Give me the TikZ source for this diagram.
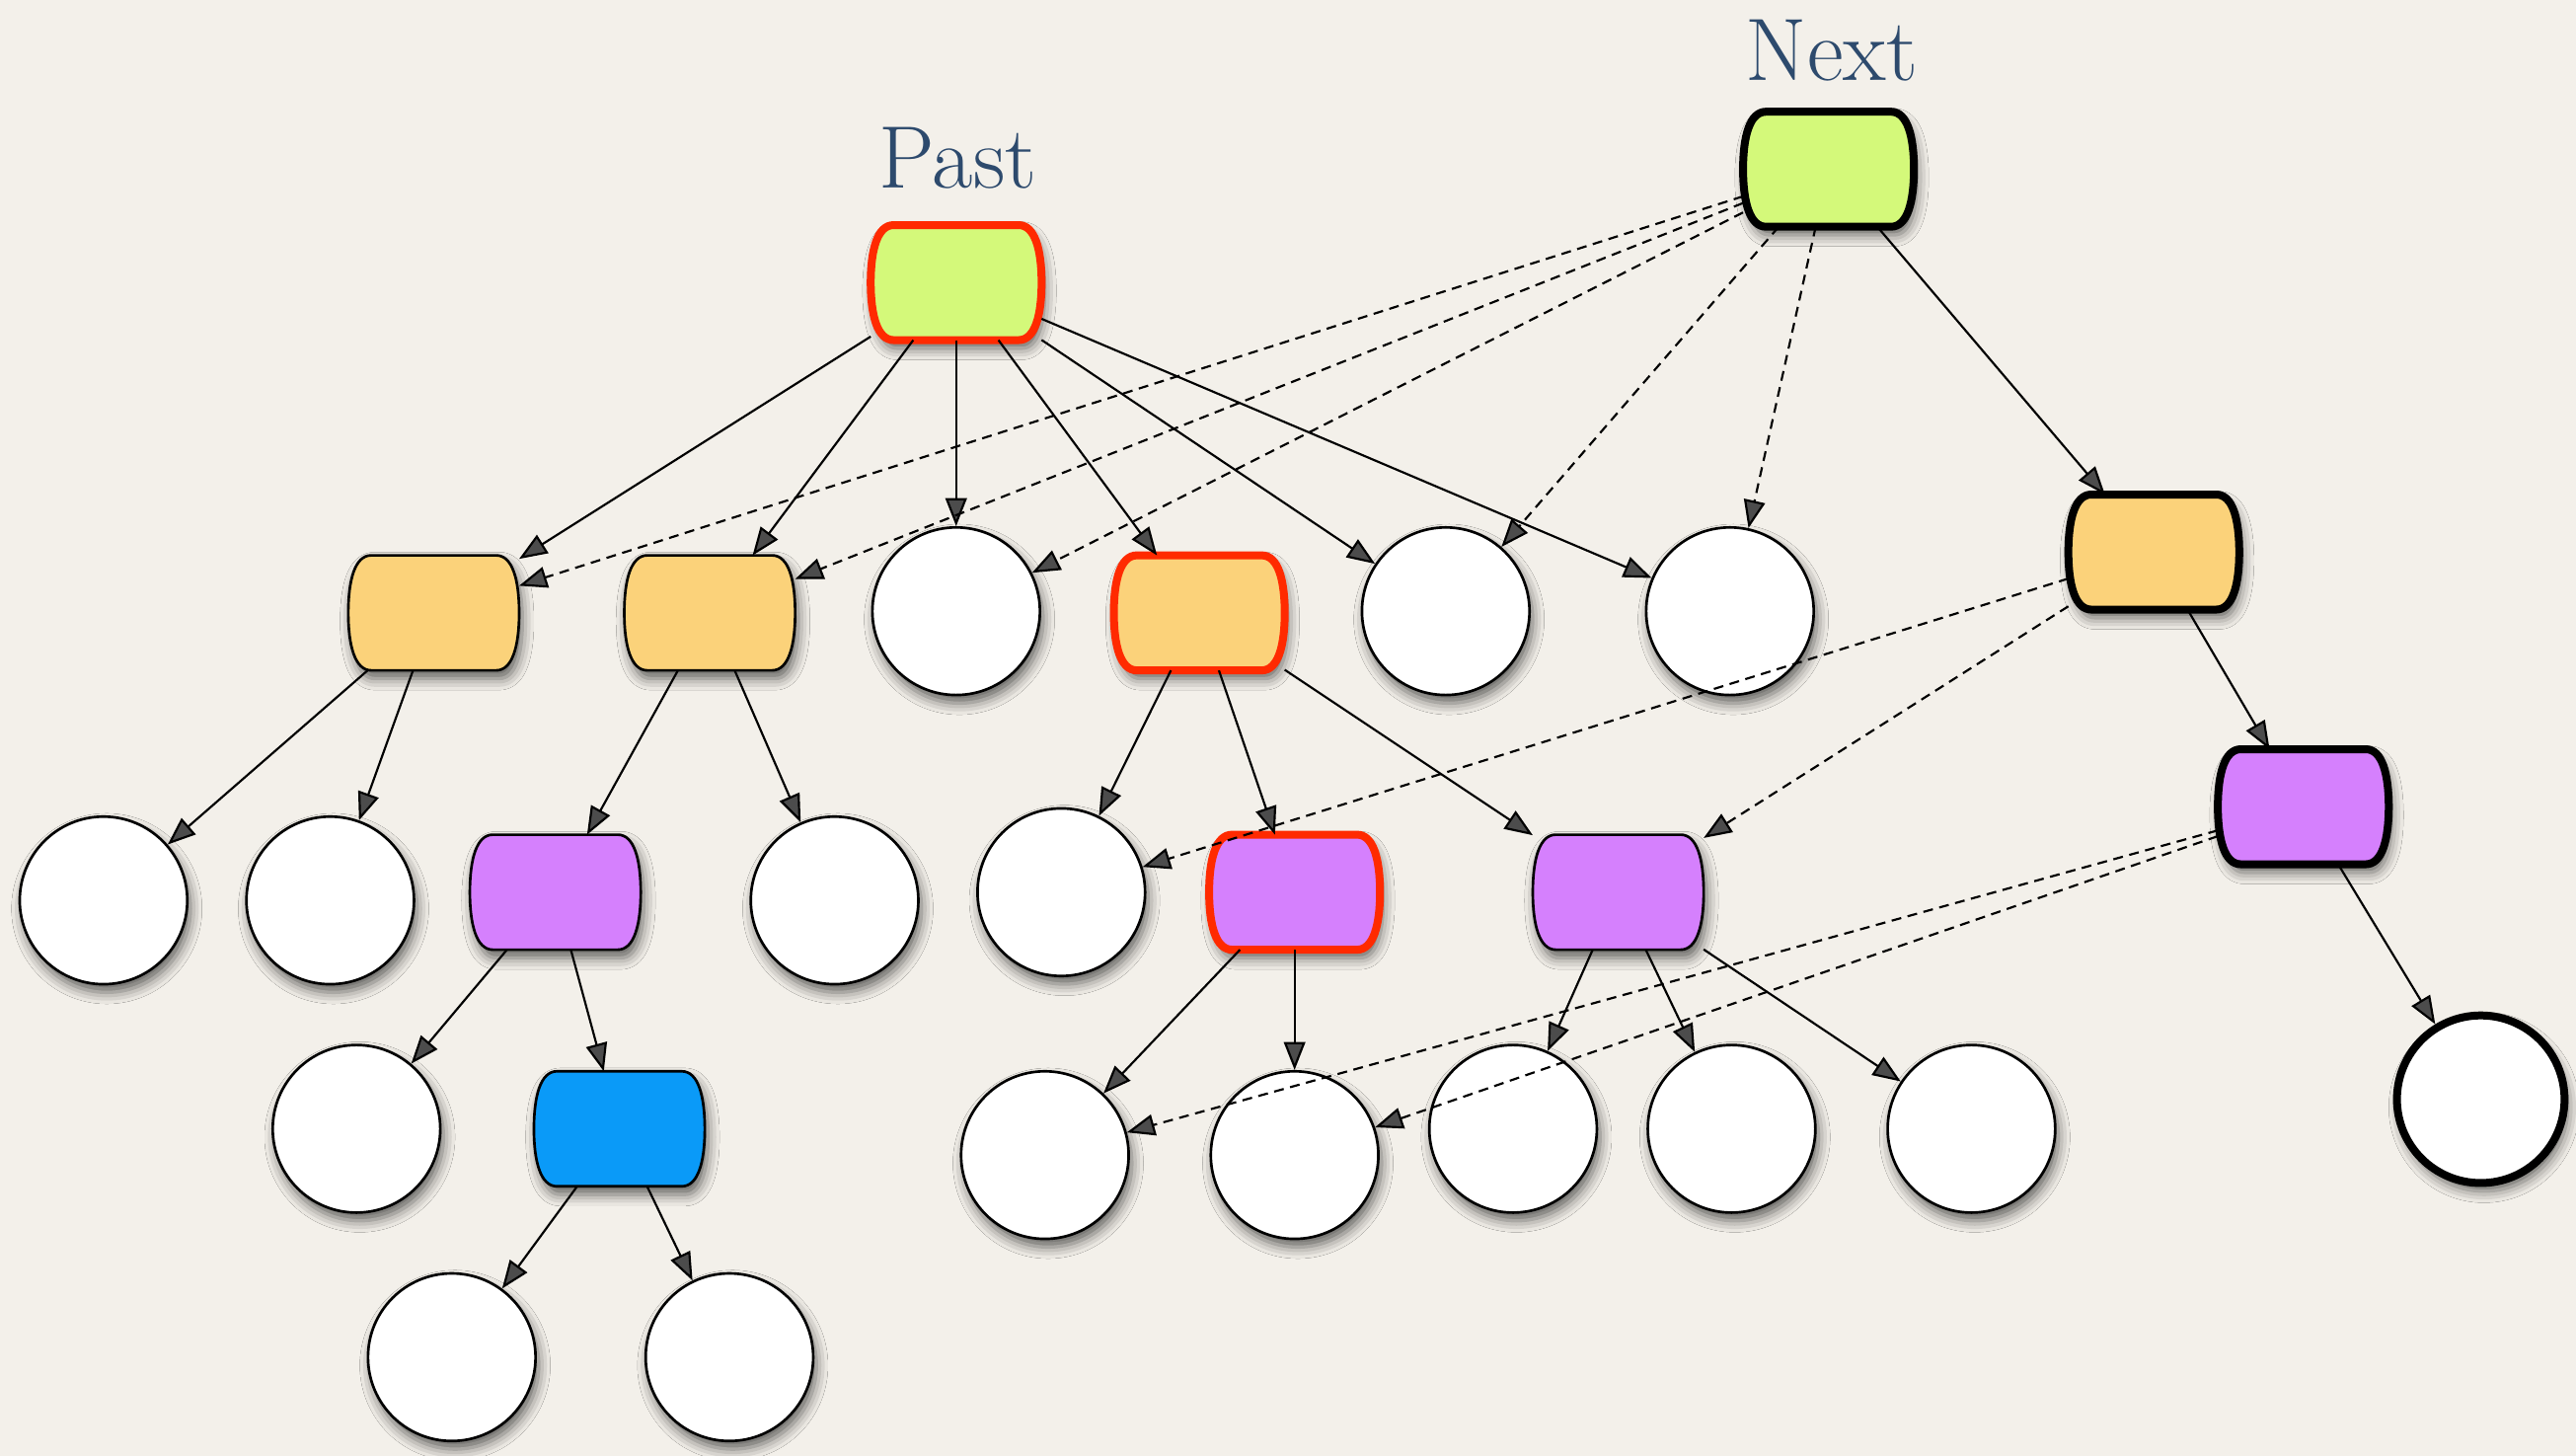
\documentclass[tikz,border=0pt]{standalone}
\usetikzlibrary{arrows.meta,shadows.blur}
\definecolor{bg}{HTML}{F3F0EA}
\definecolor{greenc}{HTML}{D4F97A}
\definecolor{orangec}{HTML}{FBD27A}
\definecolor{purplec}{HTML}{D580FD}
\definecolor{bluec}{HTML}{0A9AF8}
\definecolor{redc}{HTML}{FF2A00}
\definecolor{labelc}{HTML}{2D4A6D}
\tikzset{
  shade/.style={blur shadow={shadow xshift=1pt, shadow yshift=-2.5pt, shadow blur radius=3.5pt, shadow opacity=60}},
  boxshape/.style={draw=black, line width=0.8pt, shade},
  boxnode/.style={rectangle, minimum width=52pt, minimum height=35pt, inner sep=0pt, outer sep=0pt},
  circ/.style={circle, minimum size=51pt, inner sep=0pt, draw=black, fill=white, line width=0.8pt, shade},
  hot/.style={draw=redc, line width=2.4pt},
  heavy/.style={draw=black, line width=2.4pt},
  arr/.style={-{Triangle[length=8.5pt,width=6.5pt]}, line width=0.65pt},
  darr/.style={arr, dash pattern=on 3pt off 2pt},
  lbl/.style={text=labelc, inner sep=0pt}
}
% barrel-shaped box: name, position, fill colour, border style
\newcommand\barrelbox[4]{%
  \path[boxshape, fill=#3, #4, shift={#2}]
    (-19pt,17.5pt) -- (19pt,17.5pt)
    .. controls (24pt,17.5pt) and (26pt,10pt) .. (26pt,0pt)
    .. controls (26pt,-10pt) and (24pt,-17.5pt) .. (19pt,-17.5pt)
    -- (-19pt,-17.5pt)
    .. controls (-24pt,-17.5pt) and (-26pt,-10pt) .. (-26pt,0pt)
    .. controls (-26pt,10pt) and (-24pt,17.5pt) .. (-19pt,17.5pt) -- cycle;
  \node[boxnode] (#1) at #2 {};%
}
\begin{document}
\begin{tikzpicture}[x=0.5pt,y=-0.5pt]
\fill[bg] (0,0) rectangle (1568,886);
\useasboundingbox (0,0) rectangle (1568,886);

% labels
\node[lbl, font=\fontsize{27}{31}\selectfont] (lpast) at (583,96) {Past};
\node[lbl, font=\fontsize{27}{31}\selectfont] (lnext) at (1115,31) {Next};

% roots
\barrelbox{P}{(582,172)}{greenc}{hot}
\barrelbox{N}{(1113,103)}{greenc}{heavy}

% level 1
\barrelbox{A}{(264,373)}{orangec}{}
\barrelbox{B}{(432,373)}{orangec}{}
\node[circ] (C) at (582,372) {};
\barrelbox{D}{(730,373)}{orangec}{hot}
\node[circ] (E) at (880,372) {};
\node[circ] (F) at (1053,372) {};
\barrelbox{G}{(1311,336)}{orangec}{heavy}

% level 2
\node[circ] (c1) at (63,548) {};
\node[circ] (c2) at (201,548) {};
\barrelbox{H}{(338,543)}{purplec}{}
\node[circ] (c3) at (508,548) {};
\node[circ] (c4) at (646,543) {};
\barrelbox{I}{(788,543)}{purplec}{hot}
\barrelbox{J}{(985,543)}{purplec}{}
\barrelbox{K}{(1402,491)}{purplec}{heavy}

% level 3
\node[circ] (c5) at (217,687) {};
\barrelbox{L}{(377,687)}{bluec}{}
\node[circ] (c6) at (636,703) {};
\node[circ] (c7) at (788,703) {};
\node[circ] (c8) at (921,687) {};
\node[circ] (c9) at (1054,687) {};
\node[circ] (c10) at (1200,687) {};
\node[circ, heavy] (c11) at (1510,669) {};

% level 4
\node[circ] (c12) at (275,826) {};
\node[circ] (c13) at (444,826) {};

% solid edges
\foreach \t in {A,B,C,D,E,F} \draw[arr] (P) -- (\t);
\draw[arr] (A) -- (c1);
\draw[arr] (A) -- (c2);
\draw[arr] (B) -- (H);
\draw[arr] (B) -- (c3);
\draw[arr] (D) -- (c4);
\draw[arr] (D) -- (I);
\draw[arr] (D) -- (J);
\draw[arr] (H) -- (c5);
\draw[arr] (H) -- (L);
\draw[arr] (L) -- (c12);
\draw[arr] (L) -- (c13);
\draw[arr] (I) -- (c6);
\draw[arr] (I) -- (c7);
\draw[arr] (J) -- (c8);
\draw[arr] (J) -- (c9);
\draw[arr] (J) -- (c10);
\draw[arr] (N) -- (G);
\draw[arr] (G) -- (K);
\draw[arr] (K) -- (c11);

% dashed edges
\foreach \t in {A,B,C,E,F} \draw[darr] (N) -- (\t);
\draw[darr] (G) -- (c4);
\draw[darr] (G) -- (J);
\draw[darr] (K) -- (c6);
\draw[darr] (K) -- (c7);
\end{tikzpicture}
\end{document}
